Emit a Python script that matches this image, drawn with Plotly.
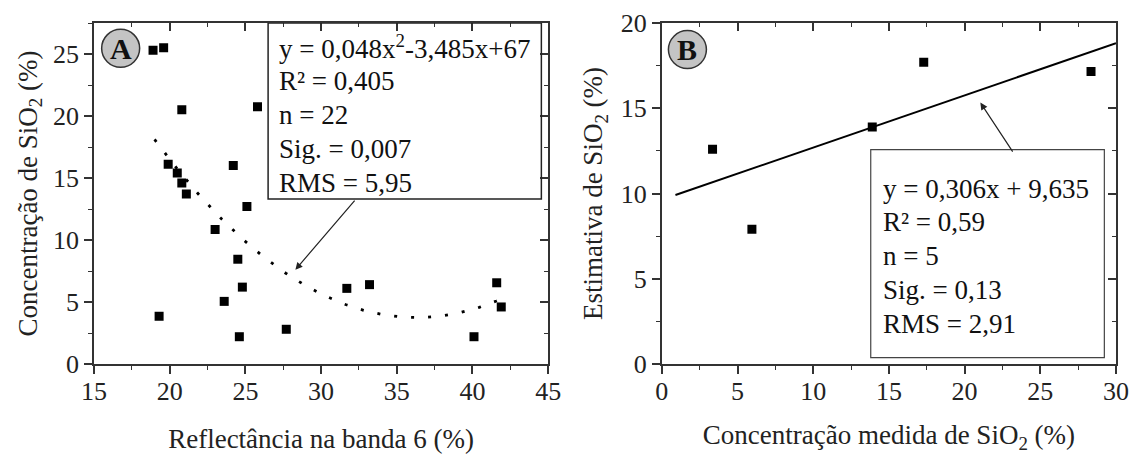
import numpy as np
import plotly.graph_objects as go

# ---- Data: panel A ----
refl_b6 = [18.9, 19.6, 20.8, 25.8, 19.9, 24.2, 20.5, 20.8, 21.1, 25.1, 23.0,
           24.5, 24.8, 23.6, 19.3, 24.6, 27.7, 31.7, 33.2, 40.1, 41.6, 41.9]
sio2_conc = [25.3, 25.5, 20.5, 20.75, 16.1, 16.0, 15.4, 14.6, 13.7, 12.7, 10.85,
             8.45, 6.2, 5.05, 3.85, 2.2, 2.8, 6.1, 6.4, 2.2, 6.55, 4.6]
fitA_coef = [0.048, -3.485, 67.0]
fitA_xrange = [19.0, 41.7]
boxA_lines = ["y = 0,048x<sup>2</sup>-3,485x+67", "R² = 0,405", "n = 22",
              "Sig. = 0,007", "RMS = 5,95"]

# ---- Data: panel B ----
sio2_meas = [3.35, 5.95, 13.9, 17.3, 28.35]
sio2_est = [12.6, 7.9, 13.9, 17.7, 17.15]
fitB_coef = [0.306, 9.635]
fitB_xrange = [0.9, 30.0]
boxB_lines = ["y = 0,306x + 9,635", "R² = 0,59", "n = 5", "Sig. = 0,13", "RMS = 2,91"]

FONT = "Liberation Serif"
AXC = "#333333"

fig = go.Figure()

xa = np.linspace(fitA_xrange[0], fitA_xrange[1], 200)
ya = fitA_coef[0] * xa**2 + fitA_coef[1] * xa + fitA_coef[2]
fig.add_trace(go.Scatter(x=xa, y=ya, mode="lines",
                         line=dict(color="black", width=2.8, dash="3px,14px"),
                         xaxis="x", yaxis="y", showlegend=False))
fig.add_trace(go.Scatter(x=refl_b6, y=sio2_conc, mode="markers",
                         marker=dict(symbol="square", size=9, color="black"),
                         xaxis="x", yaxis="y", showlegend=False))

xb = np.array(fitB_xrange)
yb = fitB_coef[0] * xb + fitB_coef[1]
fig.add_trace(go.Scatter(x=xb, y=yb, mode="lines",
                         line=dict(color="black", width=2),
                         xaxis="x2", yaxis="y2", showlegend=False))
fig.add_trace(go.Scatter(x=sio2_meas, y=sio2_est, mode="markers",
                         marker=dict(symbol="square", size=9, color="black"),
                         xaxis="x2", yaxis="y2", showlegend=False))

# empty traces for mirrored (inside-tick) axes
fig.add_trace(go.Scatter(x=[], y=[], xaxis="x3", yaxis="y3", showlegend=False))
fig.add_trace(go.Scatter(x=[], y=[], xaxis="x4", yaxis="y4", showlegend=False))

tickfont = dict(family=FONT, size=26, color="#222222")
titlefont = dict(family=FONT, size=27, color="#222222")

def base_axis(rng, dtick, minor_dtick, ticks="outside"):
    return dict(range=rng, dtick=dtick, tick0=0, showgrid=False, zeroline=False,
                automargin=False,
                showline=True, linecolor=AXC, linewidth=1.5,
                ticks=ticks, ticklen=8, tickwidth=1.5, tickcolor=AXC,
                minor=dict(ticks=ticks, dtick=minor_dtick, tick0=0, ticklen=4,
                           tickwidth=1.2, tickcolor=AXC, showgrid=False),
                tickfont=tickfont)

domA = [0.0, 0.4444]
domB = [0.5556, 1.0]
rxA, ryA = [15, 45], [0, 27.5]
rxB, ryB = [0, 30], [0, 20]

xaxis = base_axis(rxA, 5, 2.5)
xaxis.update(domain=domA, anchor="y", ticklabelstandoff=-5,
             title=dict(text="Reflectância na banda 6 (%)", font=titlefont, standoff=27))
yaxis = base_axis(ryA, 5, 2.5)
yaxis.update(domain=[0, 1], anchor="x",
             title=dict(text="Concentração de SiO<sub>2</sub> (%)", font=titlefont, standoff=8))
xaxis2 = base_axis(rxB, 5, 2.5)
xaxis2.update(domain=domB, anchor="y2", ticklabelstandoff=-5,
              title=dict(text="Concentração medida de SiO<sub>2</sub> (%)", font=titlefont, standoff=37))
yaxis2 = base_axis(ryB, 5, 2.5)
yaxis2.update(domain=[0, 1], anchor="x2",
              title=dict(text="Estimativa de SiO<sub>2</sub> (%)", font=titlefont, standoff=10))

xaxis3 = base_axis(rxA, 5, 2.5, ticks="inside")
xaxis3.update(overlaying="x", side="top", anchor="y", showticklabels=False)
yaxis3 = base_axis(ryA, 5, 2.5, ticks="inside")
yaxis3.update(overlaying="y", side="right", anchor="x", showticklabels=False)
xaxis4 = base_axis(rxB, 5, 2.5, ticks="inside")
xaxis4.update(overlaying="x2", side="top", anchor="y2", showticklabels=False)
yaxis4 = base_axis(ryB, 5, 2.5, ticks="inside")
yaxis4.update(overlaying="y2", side="right", anchor="x2", showticklabels=False)

shapes = [
    # text boxes
    dict(type="rect", xref="x", yref="y", x0=26.5, x1=44.55, y0=13.3, y1=27.5,
         line=dict(color="#222222", width=1.5), fillcolor="rgba(0,0,0,0)", layer="above"),
    dict(type="rect", xref="x2", yref="y2", x0=13.8, x1=29.23, y0=0.37, y1=12.57,
         line=dict(color="#444444", width=1.2), fillcolor="rgba(0,0,0,0)", layer="above"),
    # panel label circles
    dict(type="circle", xref="x", yref="y", xsizemode="pixel", ysizemode="pixel",
         xanchor=16.76, yanchor=25.46, x0=-19, x1=19, y0=-19, y1=19,
         fillcolor="#c4c4c4", line=dict(color="#333333", width=1.5)),
    dict(type="circle", xref="x2", yref="y2", xsizemode="pixel", ysizemode="pixel",
         xanchor=1.69, yanchor=18.44, x0=-19, x1=19, y0=-19, y1=19,
         fillcolor="#c4c4c4", line=dict(color="#333333", width=1.5)),
]

annotations = []
boxfont = dict(family=FONT, size=27, color="#111111")
yA_lines = [25.6, 22.85, 20.05, 17.3, 14.6]
for txt, yy in zip(boxA_lines, yA_lines):
    annotations.append(dict(x=27.1, y=yy, xref="x", yref="y", text=txt, showarrow=False,
                            xanchor="left", yanchor="middle", font=boxfont))
yB_lines = [10.28, 8.34, 6.34, 4.34, 2.35]
for txt, yy in zip(boxB_lines, yB_lines):
    annotations.append(dict(x=14.45, y=yy, xref="x2", yref="y2", text=txt, showarrow=False,
                            xanchor="left", yanchor="middle", font=boxfont))

# arrows
annotations.append(dict(x=28.3, y=7.6, xref="x", yref="y", ax=32.3, ay=13.3,
                        axref="x", ayref="y", text="", showarrow=True,
                        arrowhead=2, arrowsize=1.2, arrowwidth=1.2, arrowcolor="#222222"))
annotations.append(dict(x=21.04, y=15.33, xref="x2", yref="y2", ax=23.24, ay=12.37,
                        axref="x2", ayref="y2", text="", showarrow=True,
                        arrowhead=2, arrowsize=1.2, arrowwidth=1.2, arrowcolor="#222222"))

# panel labels
labfont = dict(family=FONT, size=30, color="#111111")
annotations.append(dict(x=16.76, y=25.46, xref="x", yref="y", text="<b>A</b>",
                        showarrow=False, font=labfont, xanchor="center", yanchor="middle"))
annotations.append(dict(x=1.69, y=18.44, xref="x2", yref="y2", text="<b>B</b>",
                        showarrow=False, font=labfont, xanchor="center", yanchor="middle"))

fig.update_layout(
    width=1132, height=454,
    margin=dict(l=94, r=16, t=23, b=90, autoexpand=False),
    paper_bgcolor="white", plot_bgcolor="white",
    font=dict(family=FONT, color="#222222"),
    xaxis=xaxis, yaxis=yaxis, xaxis2=xaxis2, yaxis2=yaxis2,
    xaxis3=xaxis3, yaxis3=yaxis3, xaxis4=xaxis4, yaxis4=yaxis4,
    shapes=shapes, annotations=annotations, showlegend=False,
)

fig.write_html("out.html", config={"displayModeBar": False},
               post_script="document.body.style.margin='0';document.body.style.overflow='hidden';")
